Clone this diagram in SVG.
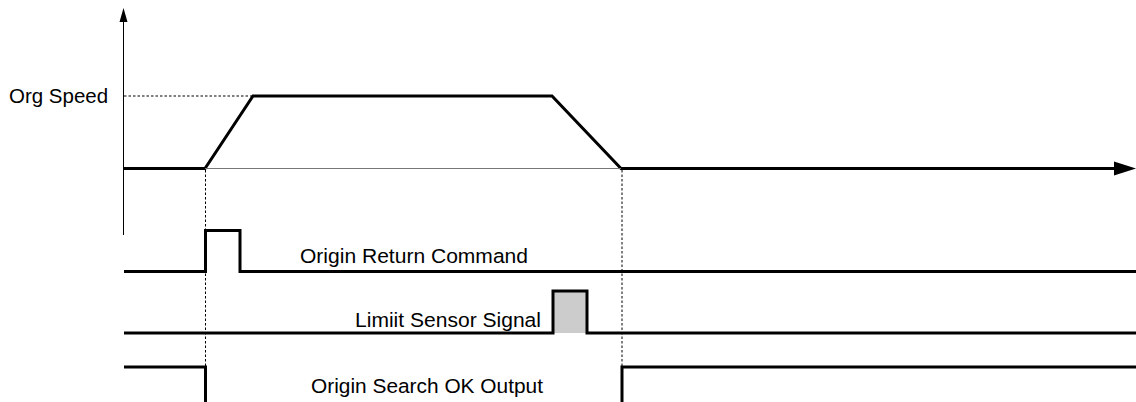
<svg xmlns="http://www.w3.org/2000/svg" width="1136" height="402" viewBox="0 0 1136 402">
<defs>
<style>
.bold{fill:none;stroke:#000;stroke-width:3;stroke-linejoin:miter}
.thin{fill:none;stroke:#000;stroke-width:1}
.gray{fill:none;stroke:#777;stroke-width:1.2}
.dash{fill:none;stroke:#000;stroke-width:1;stroke-dasharray:2.5,2}
.lbl{font-family:"Liberation Sans",Arial,sans-serif;font-size:20.5px;fill:#000}
</style>
</defs>
<rect width="1136" height="402" fill="#fff"/>
<g id="axes">
<line class="thin" x1="123.5" y1="20" x2="123.5" y2="235"/>
<polygon points="123.5,8 119.5,22 127.5,22" fill="#000"/>
<polygon points="1136,168.5 1114,161.5 1114,175.5" fill="#000"/>
</g>
<g id="speed-profile">
<path class="bold" d="M124,168.5 H205 L253,96 H552 L621,168.5 H1118"/>
<line class="gray" x1="205" y1="168.5" x2="621" y2="168.5"/>
<text class="lbl" x="9" y="103">Org Speed</text>
</g>
<g id="guides">
<line class="dash" x1="124" y1="96" x2="253" y2="96"/>
<line class="dash" x1="205.5" y1="170" x2="205.5" y2="402"/>
<line class="dash" x1="622" y1="170" x2="622" y2="402"/>
</g>
<g id="origin-return-command">
<path class="bold" d="M124,271.5 H205.5 V230.5 H240 V271.5 H1136"/>
<text class="lbl" x="300" y="263" textLength="228" lengthAdjust="spacingAndGlyphs">Origin Return Command</text>
</g>
<g id="limit-sensor-signal">
<rect x="553" y="291" width="34" height="42" fill="#ccc"/>
<path class="bold" d="M124,333 H553 V291 H587 V333 H1136"/>
<text class="lbl" x="355" y="327" textLength="186" lengthAdjust="spacingAndGlyphs">Limiit Sensor Signal</text>
</g>
<g id="origin-search-ok-output">
<path class="bold" d="M124,367 H205.5 V402"/>
<path class="bold" d="M622,402 V367 H1136"/>
<text class="lbl" x="311" y="393" textLength="232" lengthAdjust="spacingAndGlyphs">Origin Search OK Output</text>
</g>
</svg>
